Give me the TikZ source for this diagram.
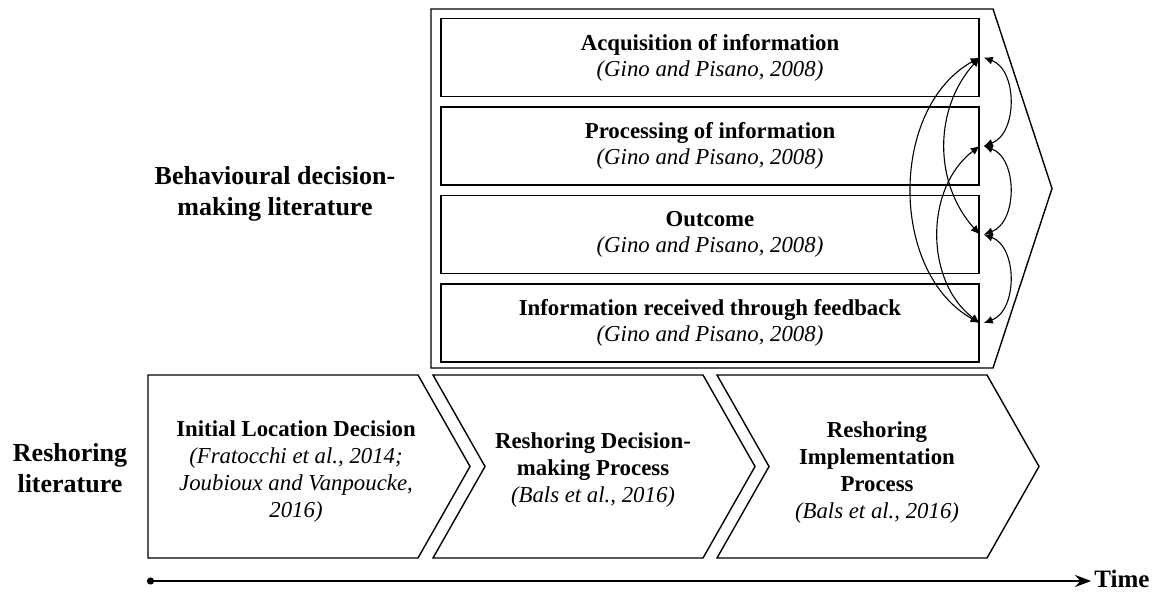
\documentclass[tikz,border=0pt]{standalone}
\usepackage{fontspec}
\setmainfont{Liberation Serif}
\usetikzlibrary{arrows.meta}

\tikzset{
  infobox/.style={draw, line width=0.7pt, minimum width=269pt, minimum height=39pt,
    inner sep=0pt, align=center, font=\fontsize{11.4}{13}\selectfont},
  chevtext/.style={align=center, font=\fontsize{11.4}{13.5}\selectfont},
  sidetext/.style={align=center, font=\fontsize{13}{15.5}\selectfont\bfseries},
  chevline/.style={line width=0.7pt},
  loopline/.style={{Latex[length=4.5pt,width=4pt]}-{Latex[length=4.5pt,width=4pt]}, line width=0.55pt},
}

\begin{document}
\begin{tikzpicture}[x=0.5pt, y=-0.5pt]
    \useasboundingbox (0,0) rectangle (1159,592);

    %Behavioural chevron
    \draw[chevline] (431,9) -- (993,9) -- (1052,188.5) -- (993,368) -- (431,368) -- cycle;

    %Decision stages
    \node[infobox] (acq) at (710,57.5) {\textbf{Acquisition of information}\\\textit{(Gino and Pisano, 2008)}};
    \node[infobox] (proc) at (710,146) {\textbf{Processing of information}\\\textit{(Gino and Pisano, 2008)}};
    \node[infobox] (outc) at (710,234.5) {\textbf{Outcome}\\\textit{(Gino and Pisano, 2008)}};
    \node[infobox] (feed) at (710,323) {\textbf{Information received through feedback}\\\textit{(Gino and Pisano, 2008)}};

    %Arrow ends
    \coordinate (acqR) at ([xshift=2pt]acq.east);
    \coordinate (procR) at ([xshift=2pt]proc.east);
    \coordinate (outcR) at ([xshift=2pt]outc.east);
    \coordinate (feedR) at ([xshift=2pt]feed.east);

    %Loops outside the boxes
    \draw[loopline] (acqR) to[bend left=70, looseness=1.05] (procR);
    \draw[loopline] (procR) to[bend left=70, looseness=1.05] (outcR);
    \draw[loopline] (outcR) to[bend left=70, looseness=1.05] (feedR);

    %Loops inside the boxes
    \draw[loopline] (acq.east) to[bend right=42] (outc.east);
    \draw[loopline] (acq.east) to[bend right=61] (feed.east);
    \draw[loopline] (proc.east) to[bend right=53] (feed.east);

    %Reshoring chevrons
    \draw[chevline] (148,375) -- (418,375) -- (470,466.5) -- (418,558) -- (148,558) -- cycle; %Initial
    \draw[chevline] (433,375) -- (703,375) -- (755,466.5) -- (703,558) -- (433,558) -- (485,466.5) -- cycle; %Decision
    \draw[chevline] (717,375) -- (987,375) -- (1039,466.5) -- (987,558) -- (717,558) -- (769,466.5) -- cycle; %Implementation

    \node[chevtext] (init) at (296,472) {\textbf{Initial Location Decision}\\\textit{(Fratocchi et al., 2014;}\\\textit{Joubioux and Vanpoucke,}\\\textit{2016)}};
    \node[chevtext] (dec) at (593,470) {\textbf{Reshoring Decision-}\\\textbf{making Process}\\\textit{(Bals et al., 2016)}};
    \node[chevtext] (impl) at (877,473) {\textbf{Reshoring}\\\textbf{Implementation}\\\textbf{Process}\\\textit{(Bals et al., 2016)}};

    %Side labels
    \node[sidetext] (behav) at (275,193.5) {Behavioural decision-\\making literature};
    \node[sidetext] (resh) at (70,468) {Reshoring\\literature};

    %Time axis
    \coordinate (tstart) at (147,581);
    \node[inner sep=0pt, font=\fontsize{12.5}{14}\selectfont\bfseries] (time) at (1122,579) {Time};
    \draw[line width=1pt, {Circle[length=3.5pt]}-{Stealth[length=8pt,width=6pt]}] (tstart) -- ([xshift=-1.5pt]time.west |- tstart);

\end{tikzpicture}
\end{document}
